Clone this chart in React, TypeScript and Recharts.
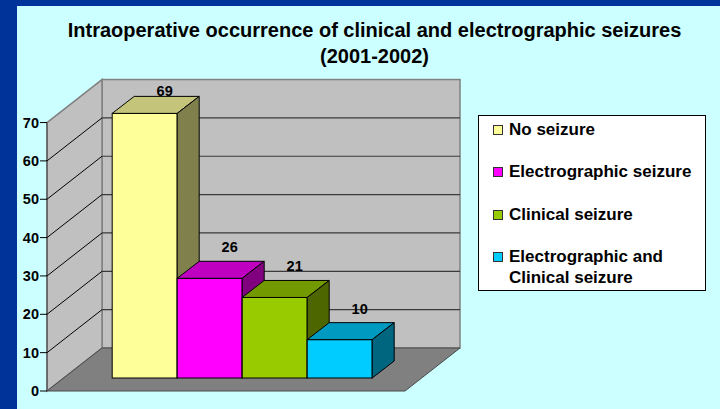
import React from 'react';
import { BarChart, Bar, XAxis, YAxis, ReferenceArea, LabelList, Legend } from 'recharts';

// ---------- data ----------
const categories = [
  'No seizure',
  'Electrographic seizure',
  'Clinical seizure',
  'Electrographic and Clinical seizure',
];
const counts = [69, 26, 21, 10];
const frontColors = ['#FFFF99', '#FF00FF', '#99CC00', '#00CCFF'];
const topColors = ['#C4C47A', '#C000C0', '#739900', '#0099C0'];
const sideColors = ['#80804D', '#800080', '#4D6600', '#006680'];
const yTicks = [0, 10, 20, 30, 40, 50, 60, 70];
const titleLines = [
  'Intraoperative occurrence of clinical and electrographic seizures',
  '(2001-2002)',
];

const seriesKeys = categories.map((_, i) => `s${i}`);
const chartData = [
  Object.fromEntries([
    ['group', '2001-2002'],
    ...seriesKeys.map((k, i) => [k, counts[i]]),
  ]),
];

// ---------- layout ----------
const W = 720;
const H = 409;
const PLOT_LEFT = 63.5;
const PLOT_RIGHT = 421.5;
const PLOT_TOP = 109.55;
const PLOT_BOTTOM = 378;
const AXIS_W = 40;
const MARGIN = {
  top: PLOT_TOP,
  bottom: H - PLOT_BOTTOM,
  left: PLOT_LEFT - AXIS_W,
  right: W - PLOT_RIGHT,
};
const FRONT = { dx: -16.5, dy: 13 };
const BACK = { dx: 38.5, dy: -30 };
const BAR_DEPTH = { dx: 22, dy: -17 };
const FONT = '"Liberation Sans", Arial, Helvetica, sans-serif';

// ---------- custom renderers ----------
const Walls = (props: any) => {
  const { x, y, width, height } = props;
  const fl = x + FRONT.dx;
  const fr = x + width + FRONT.dx;
  const fb = y + height + FRONT.dy;
  const ft = y + FRONT.dy;
  const bl = x + BACK.dx;
  const br = x + width + BACK.dx;
  const bb = y + height + BACK.dy;
  const bt = y + BACK.dy;
  return (
    <g>
      <rect x={bl} y={bt} width={br - bl} height={bb - bt} fill="#C0C0C0" stroke="#808080" strokeWidth={1.5} />
      <polygon
        points={`${fl},${ft} ${bl},${bt} ${bl},${bb} ${fl},${fb}`}
        fill="#C0C0C0"
        stroke="#808080"
        strokeWidth={1.5}
      />
      <line x1={fl} y1={ft} x2={fl} y2={fb} stroke="#404040" />
      <polygon
        points={`${fl},${fb} ${bl},${bb} ${br},${bb} ${fr},${fb}`}
        fill="#808080"
        stroke="#4a4a4a"
      />
    </g>
  );
};

const YTick = (props: any) => {
  const { y, payload } = props;
  const v = payload.value;
  const fy = y + FRONT.dy;
  const by = y + BACK.dy;
  const fl = PLOT_LEFT + FRONT.dx;
  const bl = PLOT_LEFT + BACK.dx;
  const br = PLOT_RIGHT + BACK.dx;
  const maxTick = yTicks[yTicks.length - 1];
  const inner = v > 0 && v < maxTick;
  return (
    <g>
      {inner && <line x1={bl} y1={by} x2={br} y2={by} stroke="#3a3a3a" strokeWidth={1.2} />}
      {inner && <line x1={fl} y1={fy} x2={bl} y2={by} stroke="#000" strokeWidth={1} />}
      <line x1={fl - 7} y1={fy} x2={fl} y2={fy} stroke="#000" strokeWidth={1} />
      <text
        x={fl - 8}
        y={fy + 5}
        textAnchor="end"
        fontFamily={FONT}
        fontWeight="bold"
        fontSize={14.5}
        fill="#000"
      >
        {v}
      </text>
    </g>
  );
};

const makeBarShape = (i: number) => (props: any) => {
  const { x, y, width, height } = props;
  const dx = BAR_DEPTH.dx;
  const dy = BAR_DEPTH.dy;
  return (
    <g>
      <rect x={x} y={y} width={width} height={height} fill={frontColors[i]} stroke="#000" />
      <polygon
        points={`${x},${y} ${x + dx},${y + dy} ${x + width + dx},${y + dy} ${x + width},${y}`}
        fill={topColors[i]}
        stroke="#000"
      />
      <polygon
        points={`${x + width},${y} ${x + width + dx},${y + dy} ${x + width + dx},${y + height + dy} ${x + width},${y + height}`}
        fill={sideColors[i]}
        stroke="#000"
      />
    </g>
  );
};

const NoShape = () => <g />;

const ValueLabel = (props: any) => {
  const vb = props.viewBox && props.viewBox.width != null ? props.viewBox : props;
  const { x, y, width } = vb;
  const cx = x + width / 2 + 20;
  const cy = Math.max(y - 31, PLOT_TOP - 18.5);
  return (
    <text
      x={cx}
      y={cy + 5}
      textAnchor="middle"
      fontFamily={FONT}
      fontWeight="bold"
      fontSize={14.5}
      fill="#000"
    >
      {props.value}
    </text>
  );
};

const LegendBox = (props: any) => {
  const payload = [...(props.payload || [])].sort(
    (a: any, b: any) => categories.indexOf(a.value) - categories.indexOf(b.value),
  );
  return (
    <div
      style={{
        boxSizing: 'border-box',
        width: 228,
        height: 176,
        background: '#fff',
        border: '1px solid #000',
        padding: '3px 0 0 14px',
      }}
    >
      {payload.map((e: any, i: number) => (
        <div
          key={i}
          style={{ display: 'flex', alignItems: 'flex-start', marginBottom: 20.7 }}
        >
          <span
            style={{
              display: 'block',
              width: 10,
              height: 10,
              boxSizing: 'border-box',
              background: e.color,
              border: '1px solid #333',
              marginTop: 6,
              marginRight: 6,
              flex: 'none',
            }}
          />
          <span
            style={{
              display: 'block',
              font: `bold 17px/21.6px ${FONT}`,
              color: '#000',
              width: 190,
            }}
          >
            {e.value}
          </span>
        </div>
      ))}
    </div>
  );
};

const layerStyle: React.CSSProperties = { position: 'absolute', left: 0, top: 0 };

export default function App() {
  return (
    <div
      style={{
        position: 'relative',
        width: W,
        height: H,
        background: '#003399',
        overflow: 'hidden',
      }}
    >
      <style>{'body{margin:0}'}</style>
      <div
        style={{ position: 'absolute', left: 17, top: 6, right: 0, bottom: 0, background: '#CCFFFF' }}
      />

      {/* layer A: walls and floor */}
      <div style={layerStyle}>
        <BarChart width={W} height={H} data={chartData} margin={MARGIN}>
          <XAxis dataKey="group" hide />
          <YAxis
            domain={[0, 70]}
            ticks={yTicks}
            width={AXIS_W}
            axisLine={false}
            tickLine={false}
            tick={false}
          />
          <Bar
            dataKey={seriesKeys[0]}
            fill="none"
            shape={NoShape}
            legendType="none"
            isAnimationActive={false}
          />
          <ReferenceArea y1={0} y2={70} shape={Walls} ifOverflow="visible" />
        </BarChart>
      </div>

      {/* layer B: axis, gridlines */}
      <div style={layerStyle}>
        <BarChart width={W} height={H} data={chartData} margin={MARGIN}>
          <XAxis dataKey="group" hide />
          <YAxis
            domain={[0, 70]}
            ticks={yTicks}
            interval={0}
            width={AXIS_W}
            axisLine={false}
            tickLine={false}
            tick={YTick}
          />
          <Bar
            dataKey={seriesKeys[0]}
            fill="none"
            shape={NoShape}
            legendType="none"
            isAnimationActive={false}
          />
        </BarChart>
      </div>

      {/* layer C: bars, labels, legend */}
      <div style={layerStyle}>
        <BarChart
          width={W}
          height={H}
          data={chartData}
          margin={MARGIN}
          barGap={0}
          barCategoryGap="13.6%"
        >
          <XAxis dataKey="group" hide />
          <YAxis
            domain={[0, 70]}
            ticks={yTicks}
            width={AXIS_W}
            axisLine={false}
            tickLine={false}
            tick={false}
          />
          {seriesKeys.map((k, i) => (
            <Bar
              key={k}
              dataKey={k}
              name={categories[i]}
              fill={frontColors[i]}
              shape={makeBarShape(i)}
              isAnimationActive={false}
            >
              <LabelList dataKey={k} content={ValueLabel} />
            </Bar>
          ))}
          <Legend
            layout="vertical"
            align="center"
            verticalAlign="middle"
            wrapperStyle={{ left: 478, top: 115, width: 228, height: 176 }}
            content={LegendBox}
          />
        </BarChart>
      </div>

      {/* title */}
      <svg
        width={W}
        height={80}
        style={{ position: 'absolute', left: 0, top: 0, pointerEvents: 'none' }}
      >
        {titleLines.map((t, i) => (
          <text
            key={i}
            x={374.5}
            y={37.3 + i * 26}
            textAnchor="middle"
            fontFamily={FONT}
            fontWeight="bold"
            fontSize={20}
            fill="#000"
          >
            {t}
          </text>
        ))}
      </svg>
    </div>
  );
}
